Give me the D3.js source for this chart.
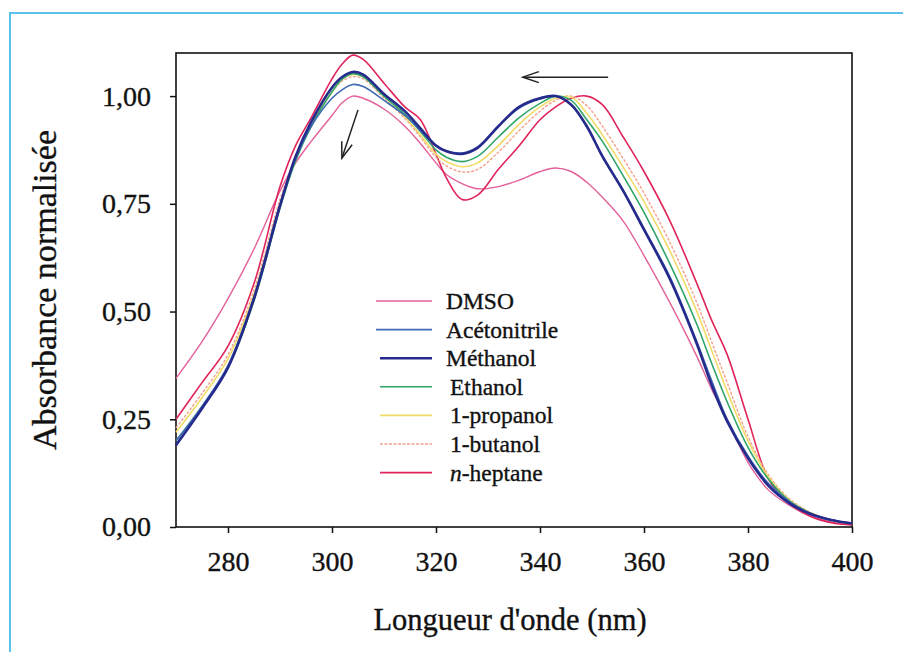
<!DOCTYPE html>
<html>
<head>
<meta charset="utf-8">
<script src="https://cdn.jsdelivr.net/npm/d3@7"></script>
<style>
  body { margin: 0; background: #fff; }
  svg text { font-family: "Liberation Serif", "Times New Roman", serif; fill: #111; stroke: #111; stroke-width: 0.35px; }
</style>
</head>
<body>
<div id="chart"></div>
<script>
// wavelengths (nm) shared by every spectrum
const wavelengths = [270, 275, 280, 285, 290, 293, 296, 300, 302, 304, 306, 310, 314, 317, 320, 322, 325, 328,
    332, 336, 340, 343, 346, 349, 352, 356, 360, 365, 370, 373, 376, 380, 384, 388, 392, 396, 400];

// normalised absorbance
const dmso = [0.345, 0.43, 0.53, 0.645, 0.78, 0.845, 0.895, 0.955, 0.985, 1.0, 0.995, 0.97, 0.93, 0.89, 0.845,
    0.818, 0.797, 0.785, 0.79, 0.805, 0.825, 0.833, 0.825, 0.80, 0.765, 0.71, 0.63, 0.52, 0.40, 0.32, 0.25,
    0.15, 0.085, 0.05, 0.025, 0.012, 0.006];
const acetonitrile = [0.20, 0.28, 0.375, 0.535, 0.75, 0.855, 0.93, 0.995, 1.015, 1.027, 1.022, 0.99, 0.955,
    0.92, 0.885, 0.873, 0.868, 0.882, 0.93, 0.972, 0.993, 1.0, 0.98, 0.928, 0.862, 0.782, 0.693, 0.58, 0.435,
    0.34, 0.25, 0.165, 0.10, 0.058, 0.032, 0.017, 0.009];
const methanol = [0.19, 0.275, 0.37, 0.53, 0.745, 0.86, 0.94, 1.02, 1.045, 1.056, 1.05, 1.005, 0.965, 0.925,
    0.885, 0.872, 0.866, 0.88, 0.93, 0.975, 0.995, 1.0, 0.98, 0.93, 0.86, 0.78, 0.69, 0.575, 0.43, 0.33, 0.245,
    0.16, 0.095, 0.055, 0.03, 0.016, 0.008];
const ethanol = [0.20, 0.28, 0.37, 0.525, 0.74, 0.85, 0.93, 1.01, 1.04, 1.052, 1.045, 1.0, 0.958, 0.918, 0.875,
    0.858, 0.848, 0.86, 0.905, 0.95, 0.983, 1.0, 0.99, 0.945, 0.895, 0.815, 0.73, 0.61, 0.475, 0.38, 0.29,
    0.185, 0.11, 0.06, 0.032, 0.016, 0.008];
const propanol = [0.22, 0.30, 0.39, 0.54, 0.75, 0.855, 0.93, 1.01, 1.04, 1.05, 1.045, 1.0, 0.952, 0.91, 0.865,
    0.848, 0.836, 0.845, 0.885, 0.935, 0.975, 0.995, 0.998, 0.96, 0.91, 0.835, 0.755, 0.64, 0.505, 0.41, 0.315,
    0.20, 0.115, 0.062, 0.033, 0.016, 0.008];
const butanol = [0.23, 0.31, 0.40, 0.55, 0.76, 0.86, 0.935, 1.01, 1.035, 1.045, 1.04, 0.995, 0.948, 0.905,
    0.858, 0.838, 0.824, 0.83, 0.87, 0.92, 0.965, 0.99, 1.0, 0.978, 0.93, 0.855, 0.775, 0.66, 0.525, 0.43,
    0.335, 0.21, 0.12, 0.065, 0.034, 0.016, 0.008];
const heptane = [0.25, 0.335, 0.42, 0.565, 0.79, 0.885, 0.95, 1.04, 1.075, 1.095, 1.085, 1.03, 0.975, 0.945,
    0.865, 0.81, 0.76, 0.77, 0.83, 0.885, 0.945, 0.975, 0.995, 1.0, 0.98, 0.905, 0.825, 0.71, 0.57, 0.48, 0.40,
    0.25, 0.11, 0.055, 0.025, 0.01, 0.005];

const solvents = ["DMSO", "Acétonitrile", "Méthanol", "Ethanol", "1-propanol", "1-butanol", "n-heptane"];
const seriesValues = [dmso, acetonitrile, methanol, ethanol, propanol, butanol, heptane];

const xTicks = [280, 300, 320, 340, 360, 380, 400];
const yTicks = [0, 0.25, 0.5, 0.75, 1.0];

// arrows drawn on the plot, in data units [nm, absorbance]
const arrows = [
    {from: [305.0, 0.968], to: [301.9, 0.856]},
    {from: [353.1, 1.044], to: [336.7, 1.044]}
];

// styles, same order as solvents
const colors = ["#e3609a", "#3f6bb5", "#262a8c", "#2fa56a", "#f0dc66", "#f2a08e", "#e0245a"];
const widths = [1.4, 1.6, 2.6, 1.6, 1.6, 1.4, 1.6];
const dashes = [null, null, null, null, null, "3,1.5", null];
const drawOrder = [0, 6, 5, 4, 3, 1, 2];

const W = 903, H = 652;
const margin = {top: 53, right: 51, bottom: 125, left: 176};
const width = W - margin.left - margin.right;
const height = H - margin.top - margin.bottom;

const svg = d3.select("#chart").append("svg")
    .attr("width", W)
    .attr("height", H);

// light blue frame of the figure
svg.append("path")
    .attr("d", `M10,${H} L10,13 L${W},13`)
    .attr("fill", "none")
    .attr("stroke", "#5cc2ec")
    .attr("stroke-width", 2);

const g = svg.append("g").attr("transform", `translate(${margin.left},${margin.top})`);

const x = d3.scaleLinear().domain([270, 400]).range([0, width]);
const y = d3.scaleLinear().domain([0, 1.1]).range([height, 0]);

const fmt = d => d3.format(".2f")(d).replace(".", ",");

// axes
const xAxis = g.append("g")
    .attr("transform", `translate(0,${height})`)
    .call(d3.axisBottom(x).tickValues(xTicks).tickSize(6).tickPadding(18).tickSizeOuter(0));
const yAxis = g.append("g")
    .call(d3.axisLeft(y).tickValues(yTicks).tickFormat(fmt).tickSize(6).tickPadding(19).tickSizeOuter(0));

[xAxis, yAxis].forEach(a => {
    a.select(".domain").remove();
    a.selectAll("line").attr("stroke", "#111").attr("stroke-width", 1.5);
    a.selectAll("text").attr("font-size", 28).attr("font-family", "Liberation Serif").attr("fill", "#111");
});

// plot box
g.append("rect")
    .attr("width", width)
    .attr("height", height)
    .attr("fill", "none")
    .attr("stroke", "#111")
    .attr("stroke-width", 1.6);

// spectra
const line = d3.line()
    .x((d, i) => x(wavelengths[i]))
    .y(d => y(d))
    .curve(d3.curveCatmullRom.alpha(0.5));

drawOrder.forEach(k => {
    g.append("path")
        .datum(seriesValues[k])
        .attr("d", line)
        .attr("fill", "none")
        .attr("stroke", colors[k])
        .attr("stroke-width", widths[k])
        .attr("stroke-dasharray", dashes[k]);
});

// arrows
svg.append("defs").append("marker")
    .attr("id", "head")
    .attr("markerUnits", "userSpaceOnUse")
    .attr("markerWidth", 30).attr("markerHeight", 30)
    .attr("viewBox", "-20 -10 30 20")
    .attr("refX", 0).attr("refY", 0)
    .attr("orient", "auto")
    .append("path")
    .attr("d", "M-16,-5.5 L0,0 L-16,5.5")
    .attr("fill", "none")
    .attr("stroke", "#222")
    .attr("stroke-width", 1.5);

arrows.forEach(a => {
    g.append("line")
        .attr("x1", x(a.from[0])).attr("y1", y(a.from[1]))
        .attr("x2", x(a.to[0])).attr("y2", y(a.to[1]))
        .attr("stroke", "#222")
        .attr("stroke-width", 1.5)
        .attr("marker-end", "url(#head)");
});

// legend
const legend = g.append("g").attr("transform", "translate(200,248)");
solvents.forEach((name, i) => {
    const row = legend.append("g").attr("transform", `translate(0,${i * 28.6})`);
    row.append("line")
        .attr("x1", i < 2 ? 0 : 4).attr("x2", 56)
        .attr("stroke", colors[i])
        .attr("stroke-width", i === 2 ? 2.4 : 1.6)
        .attr("stroke-dasharray", dashes[i]);
    const t = row.append("text")
        .attr("x", i < 3 ? 70 : 74)
        .attr("y", 8)
        .attr("font-size", 23.5);
    if (name === "n-heptane") {
        t.append("tspan").attr("font-style", "italic").text("n");
        t.append("tspan").text("-heptane");
    } else {
        t.text(name);
    }
});

// axis titles
svg.append("text")
    .attr("x", 510)
    .attr("y", 630)
    .attr("text-anchor", "middle")
    .attr("font-size", 30.5)
    .text("Longueur d'onde (nm)");

svg.append("text")
    .attr("transform", `translate(56,290) rotate(-90)`)
    .attr("text-anchor", "middle")
    .attr("font-size", 34)
    .text("Absorbance normalisée");
</script>
</body>
</html>
